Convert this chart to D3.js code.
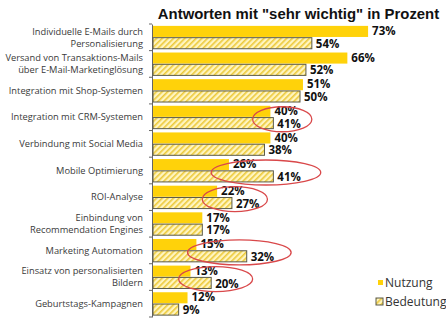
<!DOCTYPE html>
<html>
<head>
<meta charset="utf-8">
<script src="https://cdn.jsdelivr.net/npm/d3@7"></script>
<style>
  body { margin: 0; background: #fff; }
  svg { display: block; }
</style>
</head>
<body>
<div id="chart"></div>
<script>
/* chart data */
const categories = [
    ["Individuelle E-Mails durch", "Personalisierung"],
    ["Versand von Transaktions-Mails", "über E-Mail-Marketinglösung"],
    ["Integration mit Shop-Systemen"],
    ["Integration mit CRM-Systemen"],
    ["Verbindung mit Social Media"],
    ["Mobile Optimierung"],
    ["ROI-Analyse"],
    ["Einbindung von", "Recommendation Engines"],
    ["Marketing Automation"],
    ["Einsatz von personalisierten", "Bildern"],
    ["Geburtstags-Kampagnen"]
];
const nutzung   = [73, 66, 51, 40, 40, 26, 22, 17, 15, 13, 12];
const bedeutung = [54, 52, 50, 41, 38, 41, 27, 17, 32, 20, 9];
const seriesNames = ["Nutzung", "Bedeutung"];
const title = 'Antworten mit "sehr wichtig" in Prozent';

// red circles: category index, value range covered (in %)
const highlights = [
    [3, 34, 54],
    [5, 20, 57],
    [6, 17, 39],
    [8, 12, 47],
    [9, 9, 34]
];

const width = 446, height = 323;
const yellow = "#ffd20a";

const svg = d3.select("#chart").append("svg")
    .attr("width", width)
    .attr("height", height);

const defs = svg.append("defs");
const hatch = defs.append("pattern")
    .attr("id", "hatch")
    .attr("patternUnits", "userSpaceOnUse")
    .attr("width", 4)
    .attr("height", 4)
    .attr("patternTransform", "rotate(45)");
hatch.append("rect").attr("width", 4).attr("height", 4).attr("fill", "#fff5c0");
hatch.append("rect").attr("width", 1.6).attr("height", 4).attr("fill", "#ecc93a");

const x = d3.scaleLinear().domain([0, 100]).range([152, 448]);
const y = d3.scaleBand().domain(d3.range(categories.length)).range([24, 317]);
const inner = d3.scaleBand().domain([0, 1]).range([0, y.bandwidth()]).paddingInner(0.06).paddingOuter(0.16);

// title
svg.append("text")
    .attr("x", 298.5)
    .attr("y", 19)
    .attr("text-anchor", "middle")
    .attr("font-family", "Liberation Sans, Arial, sans-serif")
    .attr("font-weight", "bold")
    .attr("font-size", 14.9)
    .attr("fill", "#111")
    .text(title);

// axis
const axis = svg.append("g")
    .attr("transform", `translate(${x(0)},0)`)
    .call(d3.axisLeft(y).tickValues([]).tickSizeOuter(0));
axis.select(".domain").attr("stroke", "#666");
axis.selectAll(".tick-mark")
    .data(d3.range(categories.length + 1))
    .enter().append("line")
    .attr("x1", -3).attr("x2", 0)
    .attr("y1", i => i < categories.length ? y(i) : y.range()[1])
    .attr("y2", i => i < categories.length ? y(i) : y.range()[1])
    .attr("stroke", "#666");

// category labels
const labels = svg.append("g")
    .attr("font-family", "Open Sans, sans-serif")
    .attr("font-size", 9.3)
    .attr("fill", "#3a3a3a")
    .attr("text-anchor", "end");
categories.forEach((lines, i) => {
    const cy = y(i) + y.bandwidth() / 2;
    const t = labels.append("text").attr("x", x(0) - 9);
    lines.forEach((line, k) => {
        t.append("tspan")
            .attr("x", x(0) - 9)
            .attr("y", cy + (k - (lines.length - 1) / 2) * 12)
            .attr("dy", "0.35em")
            .text(line);
    });
});

// bars
const rows = svg.append("g").selectAll("g")
    .data(categories.map((c, i) => i))
    .enter().append("g")
    .attr("transform", i => `translate(0,${y(i)})`);

rows.append("rect")
    .attr("x", x(0) + 1)
    .attr("y", inner(0))
    .attr("width", i => x(nutzung[i]) - x(0) - 1)
    .attr("height", inner.bandwidth())
    .attr("fill", yellow);

rows.append("rect")
    .attr("x", x(0) + 1)
    .attr("y", inner(1))
    .attr("width", i => x(bedeutung[i]) - x(0) - 1)
    .attr("height", inner.bandwidth())
    .attr("fill", "url(#hatch)")
    .attr("stroke", "#5a5a4a")
    .attr("stroke-width", 1);

const valueFont = "Open Sans, sans-serif";
rows.append("text")
    .attr("x", i => x(nutzung[i]) + 4)
    .attr("y", inner(0) + inner.bandwidth() / 2 - 0.5)
    .attr("dy", "0.36em")
    .attr("font-family", valueFont)
    .attr("font-weight", "bold")
    .attr("font-size", 11.5)
    .attr("fill", "#111")
    .text(i => nutzung[i] + "%");

rows.append("text")
    .attr("x", i => x(bedeutung[i]) + 4)
    .attr("y", inner(1) + inner.bandwidth() / 2 + 0.5)
    .attr("dy", "0.36em")
    .attr("font-family", valueFont)
    .attr("font-weight", "bold")
    .attr("font-size", 11.5)
    .attr("fill", "#111")
    .text(i => bedeutung[i] + "%");

// red ellipses
svg.append("g").selectAll("ellipse")
    .data(highlights)
    .enter().append("ellipse")
    .attr("cx", d => (x(d[1]) + x(d[2])) / 2)
    .attr("cy", d => y(d[0]) + y.bandwidth() / 2 + 2)
    .attr("rx", d => (x(d[2]) - x(d[1])) / 2)
    .attr("ry", 12.5)
    .attr("fill", "none")
    .attr("stroke", "#d9484a")
    .attr("stroke-width", 1.3);

// legend
const legend = svg.append("g")
    .attr("font-family", "Open Sans, sans-serif")
    .attr("font-size", 12)
    .attr("fill", "#333");
legend.append("rect")
    .attr("x", 378).attr("y", 280).attr("width", 5).attr("height", 5)
    .attr("fill", yellow);
legend.append("text").attr("x", 385).attr("y", 283).attr("dy", "0.35em").text(seriesNames[0]);
legend.append("rect")
    .attr("x", 376).attr("y", 298).attr("width", 7).attr("height", 7)
    .attr("fill", "url(#hatch)").attr("stroke", "#5a5a4a");
legend.append("text").attr("x", 385).attr("y", 302).attr("dy", "0.35em").text(seriesNames[1]);
</script>
</body>
</html>
